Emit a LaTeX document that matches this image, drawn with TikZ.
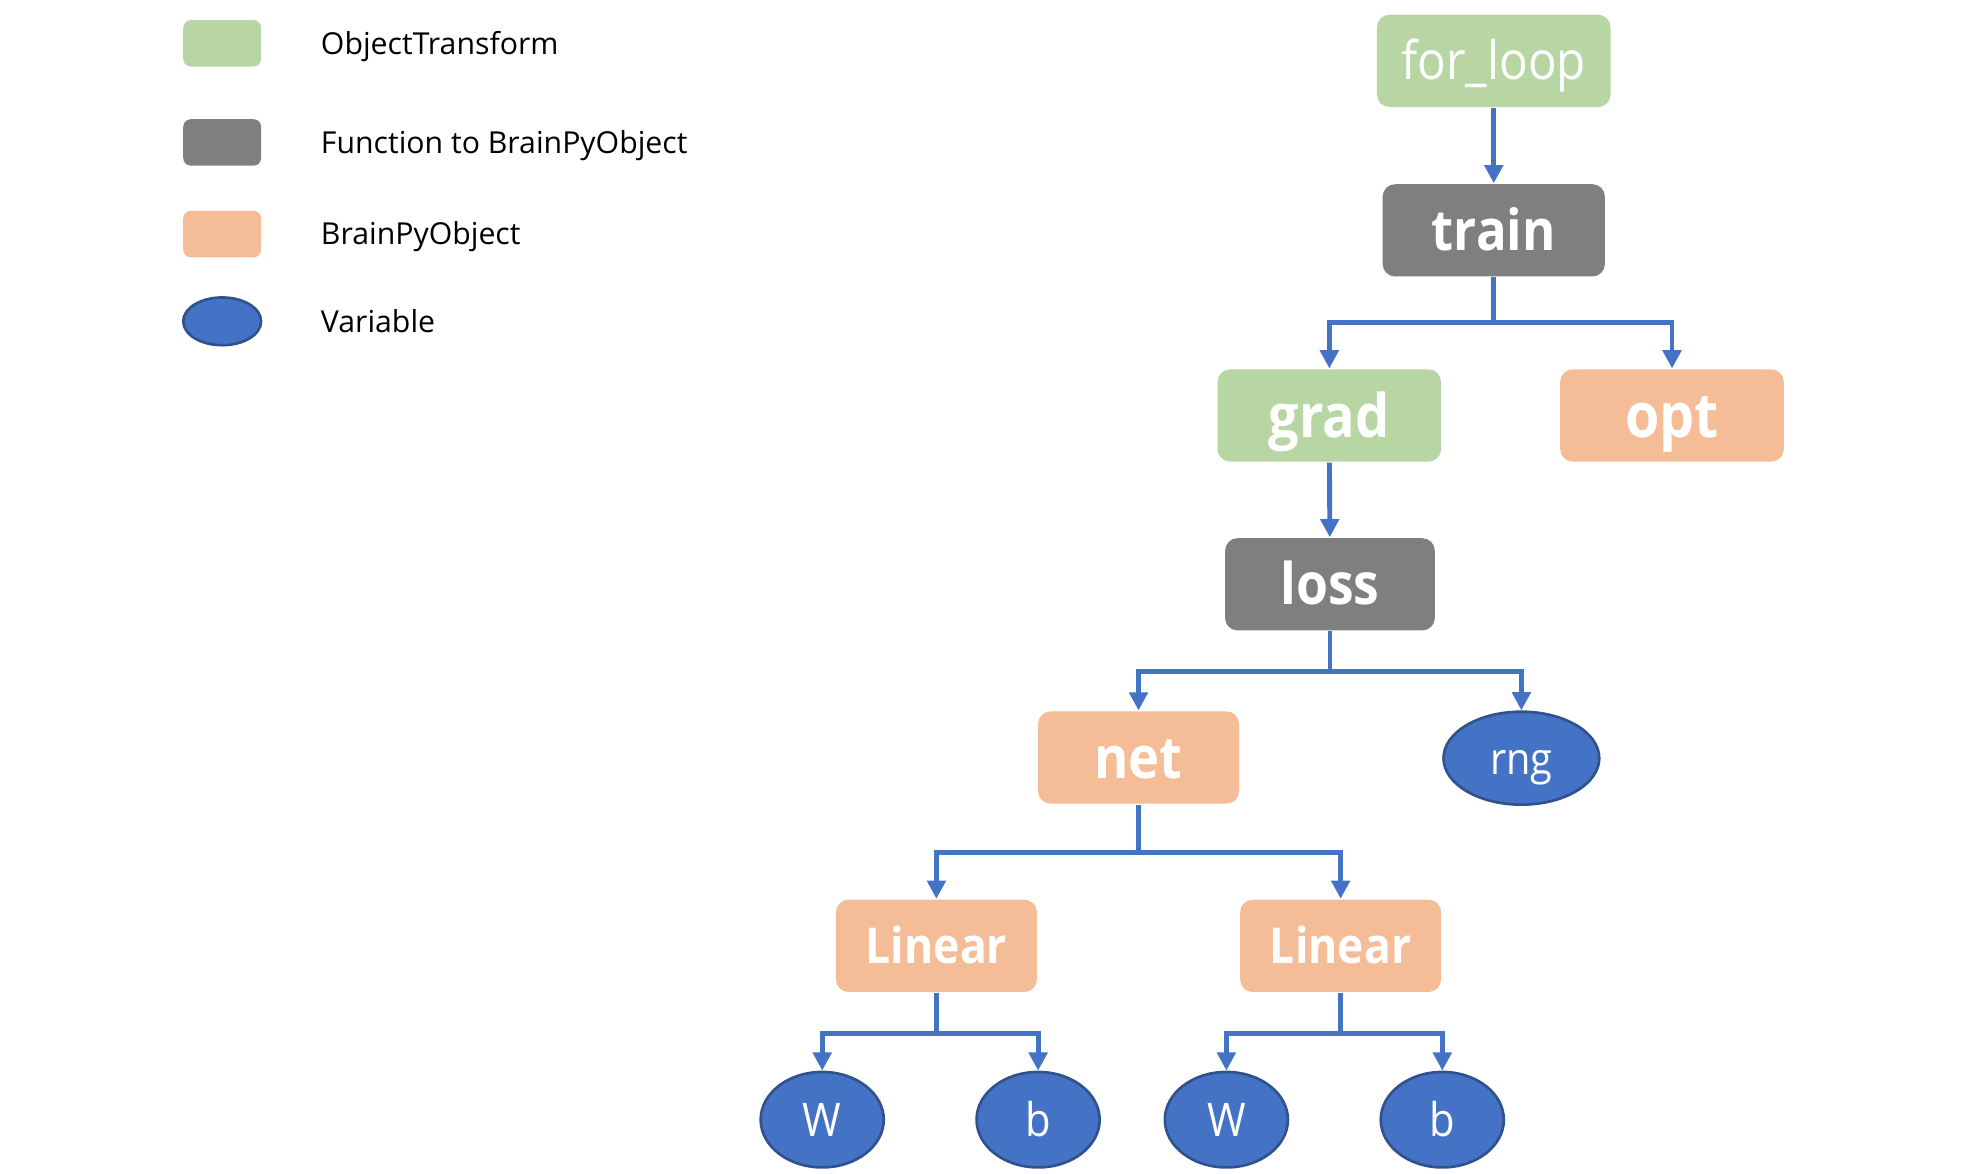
\documentclass[tikz,border=0pt]{standalone}
\usepackage{fontspec}
\setmainfont{Open Sans}
\newfontfamily\nodefont[FakeStretch=0.9]{Open Sans}
\usetikzlibrary{shapes.geometric,arrows.meta}

\definecolor{objgreen}{HTML}{B8D6A3}
\definecolor{fungray}{HTML}{7F7F7F}
\definecolor{bpyorange}{HTML}{F5BD97}
\definecolor{varblue}{HTML}{4472C4}
\definecolor{varborder}{HTML}{2F528F}

\begin{document}
\begin{tikzpicture}[x=0.01cm,y=-0.01cm,
  box/.style={rectangle, rounded corners=0.1cm, text=white, inner sep=0pt, minimum height=0.735cm},
  var/.style={ellipse, draw=varborder, fill=varblue, line width=0.6pt, text=white, inner sep=0pt},
  lbl/.style={font=\nodefont\bfseries\fontsize{#1}{#1}\selectfont, text height=0.72*#1pt, text depth=0pt},
  lblreg/.style={font=\nodefont\fontsize{#1}{#1}\selectfont, text height=0.72*#1pt, text depth=0pt},
  link/.style={draw=varblue, line width=1.1pt, -{Triangle[width=0.145cm,length=0.145cm]}},
  legbox/.style={rectangle, rounded corners=0.06cm, minimum width=0.62cm, minimum height=0.37cm, inner sep=0pt},
  legtext/.style={anchor=west, inner sep=0pt, text height=4.9pt, text depth=0pt, font=\fontsize{6.85}{9}\selectfont}]
\useasboundingbox (0,0) rectangle (1567.8,934.6);
%%% legend
\node[legbox, fill=objgreen] (legobj) at (177,34.5) {};
\node[legtext] (legobjtext) at (255,35) {ObjectTransform};
\node[legbox, fill=fungray] (legfun) at (177,113.5) {};
\node[legtext] (legfuntext) at (255,114) {Function to BrainPyObject};
\node[legbox, fill=bpyorange] (legbpy) at (177,186.5) {};
\node[legtext] (legbpytext) at (255,186) {BrainPyObject};
\node[var, minimum width=0.62cm, minimum height=0.38cm] (legvar) at (177,256) {};
\node[legtext] (legvartext) at (255,256) {Variable};
%%% the tree
\node[box, fill=objgreen, minimum width=1.86cm, lblreg=12] (forloop) at (1190,48.5) {for\_loop};
\node[box, fill=fungray, minimum width=1.77cm, lbl=12.8] (train) at (1190,183.5) {train};
\node[box, fill=objgreen, minimum width=1.78cm, lbl=13.6] (grad) at (1059,331) {grad};
\node[box, fill=bpyorange, minimum width=1.78cm, lbl=14] (opt) at (1332,331) {opt};
\node[box, fill=fungray, minimum width=1.67cm, lbl=13] (loss) at (1059.5,465.5) {loss};
\node[box, fill=bpyorange, minimum width=1.60cm, lbl=13.2] (net) at (907,603.5) {net};
\node[var, minimum width=1.24cm, minimum height=0.74cm, lblreg=10] (rng) at (1212,604) {rng};
\node[box, fill=bpyorange, minimum width=1.60cm, lbl=11.2] (linA) at (746,753.5) {Linear};
\node[box, fill=bpyorange, minimum width=1.60cm, lbl=11.2] (linB) at (1068,753.5) {Linear};
\node[var, minimum width=0.98cm, minimum height=0.76cm, lblreg=10.5] (wA) at (655,892) {W};
\node[var, minimum width=0.98cm, minimum height=0.76cm, lblreg=10.5] (bA) at (827,892) {b};
\node[var, minimum width=0.98cm, minimum height=0.76cm, lblreg=10.5] (wB) at (977,892) {W};
\node[var, minimum width=0.98cm, minimum height=0.76cm, lblreg=10.5] (bB) at (1149,892) {b};
%%% forks
\coordinate (trainfork) at (1190,257);
\coordinate (lossfork) at (1059.5,535);
\coordinate (netfork) at (907,679);
\coordinate (linAfork) at (746,823);
\coordinate (linBfork) at (1068,823);
%%% arrows
\draw[link] (forloop) -- (train);
\draw[link] (train.south) -- (trainfork) -| (grad.north);
\draw[link] (trainfork) -| (opt.north);
\draw[link] (grad) -- (loss);
\draw[link] (loss.south) -- (lossfork) -| (net.north);
\draw[link] (lossfork) -| (rng.north);
\draw[link] (net.south) -- (netfork) -| (linA.north);
\draw[link] (netfork) -| (linB.north);
\draw[link] (linA.south) -- (linAfork) -| (wA.north);
\draw[link] (linAfork) -| (bA.north);
\draw[link] (linB.south) -- (linBfork) -| (wB.north);
\draw[link] (linBfork) -| (bB.north);
\end{tikzpicture}
\end{document}
